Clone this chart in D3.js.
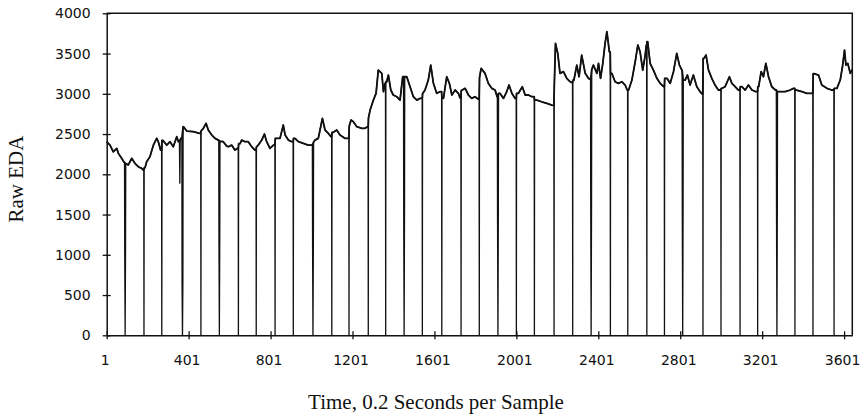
<!DOCTYPE html>
<html>
<head>
<meta charset="utf-8">
<script src="https://cdn.jsdelivr.net/npm/d3@7/dist/d3.min.js"></script>
<style>
  html, body { margin: 0; padding: 0; background: #fff; }
  svg { display: block; }
  .tick text { font-family: "DejaVu Sans", Verdana, sans-serif; font-size: 14px; fill: #111; }
  .axis-title { font-family: "Liberation Serif", "Times New Roman", serif; font-size: 21px; fill: #111; }
</style>
</head>
<body>
<svg id="chart" width="864" height="415"></svg>
<script>
// Raw electrodermal activity trace: sample number and raw reading
const traceSamples = [
  1, 17, 33, 50, 58, 74, 86, 98, 106, 123, 139, 155, 172, 180,
  188, 196, 212, 229, 245, 253, 264, 276, 294, 310, 326, 343, 351, 356, 360, 364,
  376, 392, 424, 454, 473, 486, 497, 514, 530, 546,
  557, 570, 587, 595, 611, 627, 640, 652, 660, 676, 692, 709, 725,
  741, 758, 771, 782, 798, 815, 831, 847, 863, 872, 888, 904,
  920, 937, 961, 985, 1001, 1018, 1034, 1054, 1067, 1083, 1096,
  1106, 1124, 1140, 1165, 1179, 1194, 1205, 1222, 1246, 1262, 1274,
  1287, 1303, 1316, 1327, 1344, 1352, 1360, 1368, 1376, 1388, 1400, 1417, 1433, 1446,
  1458, 1466, 1482, 1498, 1515, 1531, 1555, 1571, 1583, 1596, 1612, 1628,
  1645, 1661, 1674, 1686, 1702, 1718, 1726, 1751, 1767, 1783, 1799, 1814,
  1829, 1848, 1864, 1881, 1897, 1907, 1921, 1938, 1954, 1965, 1979, 1995,
  2011, 2030, 2044, 2060, 2076, 2101, 2125, 2150, 2174, 2181,
  2192, 2203, 2214, 2231, 2247, 2263, 2271, 2282, 2296, 2307, 2320, 2337, 2353, 2362,
  2377, 2394, 2402, 2412, 2423, 2434, 2443, 2455, 2467, 2483, 2499, 2516, 2532, 2542,
  2549, 2565, 2581, 2594, 2605, 2618, 2630, 2635, 2642, 2654, 2670, 2687, 2703, 2720,
  2736, 2752, 2768, 2784, 2797, 2809, 2825, 2836, 2849, 2865, 2882, 2898, 2907,
  2917, 2927, 2939, 2955, 2971, 2987, 3005, 3020, 3041, 3053, 3069, 3085,
  3102, 3118, 3134, 3151, 3170, 3184, 3196, 3207, 3219, 3232, 3248, 3266,
  3289, 3313, 3338, 3354, 3368, 3395, 3419, 3440,
  3454, 3476, 3492, 3517, 3541, 3566, 3582, 3593, 3603, 3610, 3619, 3631, 3640
];
const traceValues = [
  2405, 2363, 2280, 2322, 2260, 2198, 2150, 2130, 2115, 2198, 2136, 2094, 2074, 2053,
  2080, 2156, 2218, 2363, 2446, 2405, 2301, 2420, 2363, 2405, 2342, 2467, 2405, 2410, 2430, 2450,
  2591, 2537, 2529, 2509, 2571, 2633, 2550, 2488, 2446, 2425,
  2410, 2405, 2350, 2342, 2363, 2301, 2322, 2380, 2425, 2405, 2405, 2342, 2301,
  2363, 2425, 2500, 2405, 2322, 2363, 2446, 2446, 2612, 2488, 2425, 2405,
  2446, 2405, 2384, 2363, 2363, 2425, 2446, 2695, 2550, 2509, 2467,
  2520, 2550, 2488, 2446, 2446, 2674, 2653, 2591, 2571, 2571, 2590,
  2798, 2922, 3006, 3295, 3254, 3026, 3130, 3150, 3233, 3047, 2985, 2964, 2922, 3212,
  3212, 3212, 3088, 2964, 2922, 2943, 3047, 3171, 3357, 3130, 3006, 3026,
  2943, 3212, 3130, 2985, 3047, 3006, 2950, 3068, 2985, 2943, 2964, 2935,
  3316, 3254, 3130, 3068, 3047, 2964, 3006, 2943, 3026, 3109, 3006, 2943,
  3006, 3088, 2985, 2985, 2964, 2922, 2901, 2881, 2860, 2855,
  3627, 3502, 3254, 3275, 3192, 3150, 3140, 3171, 3357, 3212, 3481, 3254, 3192, 3180,
  3357, 3254, 3378, 3192, 3378, 3627, 3771, 3522, 3254, 3150, 3130, 3150, 3109, 3047,
  3047, 3171, 3398, 3606, 3522, 3295, 3481, 3600, 3647, 3378, 3295, 3192, 3130, 3088,
  3192, 3130, 3275, 3502, 3357, 3295, 3171, 3233, 3109, 3233, 3088, 3026, 3000,
  3440, 3481, 3295, 3192, 3109, 3047, 3068, 3088, 3212, 3130, 3088, 3047,
  3088, 3047, 3109, 3047, 3026, 3088, 3275, 3212, 3378, 3212, 3088, 3047,
  3026, 3026, 3047, 3068, 3047, 3026, 3006, 3006,
  3250, 3233, 3109, 3068, 3047, 3068, 3171, 3336, 3543, 3357, 3378, 3254, 3300
];

// Samples where the sensor signal dropped out to zero,
// with the trace level just before and just after each dropout
const dropoutSamples = [
  91, 183, 270, 371, 461, 551, 644, 731, 823, 912, 1008, 1100, 1184, 1278,
  1363, 1453, 1542, 1637, 1731, 1820, 1911, 2001, 2089, 2185, 2276, 2366,
  2460, 2545, 2638, 2724, 2813, 2912, 3000, 3093, 3179, 3273, 3361, 3449, 3552
];
const levelBefore = [
  2150, 2053, 2301, 2450, 2509, 2425, 2322, 2301, 2363, 2405, 2363, 2467, 2446, 2590,
  3130, 3212, 2943, 3026, 2950, 2935, 2964, 2943, 2964, 2855, 3140, 3180,
  3522, 3047, 3600, 3088, 3295, 3000, 3047, 3047, 3026, 3047, 3068, 3006, 3047
];
const levelAfter = [
  2130, 2080, 2420, 2591, 2540, 2410, 2380, 2340, 2446, 2446, 2400, 2520, 2600, 2700,
  3150, 3212, 3000, 2943, 3040, 3200, 3006, 3006, 2922, 3088, 3171, 3300,
  3254, 3047, 3647, 3192, 3171, 3440, 3068, 3088, 3088, 3026, 3047, 3250, 3068
];

// Partial dips that sit beside some dropouts
const dipSamples = [89, 93, 358, 369, 373, 549, 553, 1006, 1010, 1451, 1455,
  1909, 1913, 2364, 2368, 2811, 2815, 3271, 3275];
const dipValues = [1050, 1100, 1890, 620, 700, 1200, 1250, 1180, 1200, 1530, 1600,
  1490, 1550, 1580, 1620, 1590, 1620, 1515, 1560];

const xTicks = [1, 401, 801, 1201, 1601, 2001, 2401, 2801, 3201, 3601];
const yTicks = [0, 500, 1000, 1500, 2000, 2500, 3000, 3500, 4000];

// Merge the trace, dropouts and dips into one ordered series
const series = [];
traceSamples.forEach((s, i) => series.push({ s, v: traceValues[i], kind: "trace" }));
dipSamples.forEach((s, i) => series.push({ s, v: dipValues[i], kind: "dip" }));
dropoutSamples.forEach((s, i) => {
  const gap = dipSamples.includes(s - 2) ? 3 : 1;
  series.push({ s: s - gap, v: levelBefore[i], kind: "trace" });
  series.push({ s, v: 0, kind: "drop" });
  series.push({ s: s + gap, v: levelAfter[i], kind: "trace" });
});
series.sort((a, b) => a.s - b.s);

const svg = d3.select("#chart");
const plotLeft = 106.7, plotRight = 852.3, plotTop = 13.3, plotBottom = 335.3;

const x = d3.scaleLinear().domain([1, 3641]).range([plotLeft, plotRight]);
const y = d3.scaleLinear().domain([0, 4000]).range([plotBottom, plotTop]);

// Plot frame (top and right edges)
svg.append("path")
  .attr("d", `M${plotLeft},${plotTop}H${plotRight}V${plotBottom}`)
  .attr("fill", "none")
  .attr("stroke", "#111")
  .attr("stroke-width", 1.5);

// Y axis
const yAxis = svg.append("g")
  .attr("transform", `translate(${plotLeft},0)`)
  .call(d3.axisLeft(y).tickValues(yTicks).tickSizeOuter(0).tickSizeInner(4).tickFormat(d3.format("d")));
yAxis.select(".domain").attr("stroke", "#111").attr("stroke-width", 1.5);
yAxis.selectAll(".tick line").attr("x1", 4).attr("x2", -4).attr("stroke", "#111").attr("stroke-width", 1.3);
yAxis.selectAll(".tick text").attr("x", -16);

// X axis
const xAxis = svg.append("g")
  .attr("transform", `translate(0,${plotBottom})`)
  .call(d3.axisBottom(x).tickValues(xTicks).tickSizeOuter(0).tickSizeInner(4).tickFormat(d3.format("d")));
xAxis.select(".domain").attr("stroke", "#111").attr("stroke-width", 1.5);
xAxis.selectAll(".tick line").attr("y1", -4).attr("y2", 4).attr("stroke", "#111").attr("stroke-width", 1.3);
xAxis.selectAll(".tick text").attr("x", -2).attr("y", 20);

// EDA signal including dropouts
const line = d3.line().x(d => x(d.s)).y(d => y(d.v));
svg.append("path")
  .datum(series)
  .attr("d", line)
  .attr("fill", "none")
  .attr("stroke", "#111")
  .attr("stroke-width", 1.3)
  .attr("stroke-linejoin", "round");

// Heavier stroke along the continuous skin-conductance level
svg.append("path")
  .datum(series.filter(d => d.kind === "trace"))
  .attr("d", line)
  .attr("fill", "none")
  .attr("stroke", "#111")
  .attr("stroke-width", 1.8)
  .attr("stroke-linejoin", "round");

// Axis titles
svg.append("text")
  .attr("class", "axis-title")
  .attr("x", 436)
  .attr("y", 409)
  .attr("text-anchor", "middle")
  .text("Time, 0.2 Seconds per Sample");

svg.append("text")
  .attr("class", "axis-title")
  .attr("transform", "translate(22.5,179) rotate(-90)")
  .attr("text-anchor", "middle")
  .text("Raw EDA");
</script>
</body>
</html>
